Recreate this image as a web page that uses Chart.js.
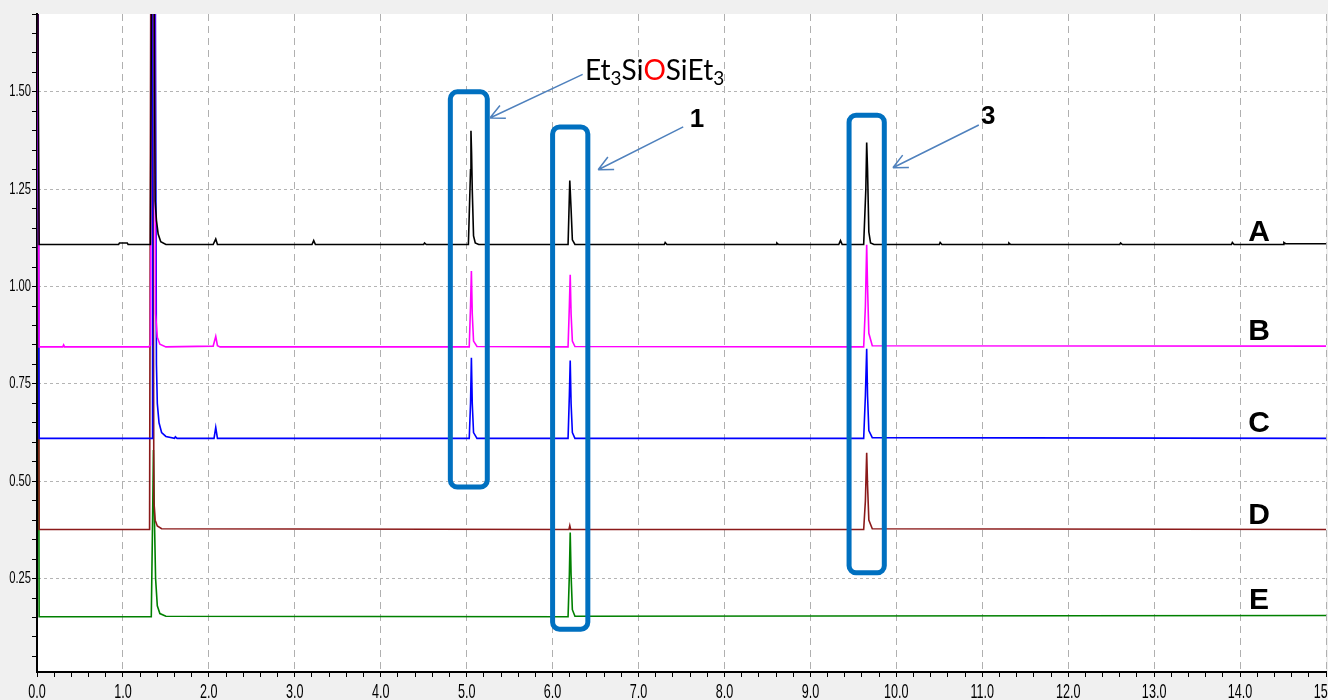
<!DOCTYPE html>
<html>
<head>
<meta charset="utf-8">
<script src="https://cdn.jsdelivr.net/npm/chart.js@4.4.1/dist/chart.umd.min.js"></script>
<style>
  html, body { margin: 0; padding: 0; background: #f0f0f0; }
  #wrap { width: 1328px; height: 700px; }
</style>
</head>
<body>
<div id="wrap"><canvas id="gc" width="1328" height="700"></canvas></div>
<script>
// retention time (min) , signal
const traceA = [
  [0.005, 1.9], [0.025, 1.108], [0.95, 1.108], [0.96, 1.112], [1.05, 1.112], [1.06, 1.108],
  [1.32, 1.108], [1.335, 1.9], [1.36, 1.9], [1.375, 1.22], [1.39, 1.17], [1.41, 1.135], [1.44, 1.115], [1.50, 1.108],
  [2.05, 1.108], [2.08, 1.122], [2.10, 1.108], [3.20, 1.108], [3.22, 1.118], [3.24, 1.108],
  [4.50, 1.108], [4.51, 1.112], [4.53, 1.108],
  [5.02, 1.108], [5.045, 1.30], [5.05, 1.40], [5.057, 1.345], [5.065, 1.25], [5.08, 1.13], [5.10, 1.112], [5.14, 1.108],
  [6.18, 1.108], [6.20, 1.272], [6.215, 1.20], [6.23, 1.12], [6.26, 1.108],
  [7.30, 1.108], [7.31, 1.113], [7.33, 1.108], [8.60, 1.108], [8.61, 1.112], [8.63, 1.108],
  [9.33, 1.108], [9.35, 1.118], [9.37, 1.108],
  [9.62, 1.108], [9.645, 1.25], [9.655, 1.37], [9.665, 1.30], [9.68, 1.14], [9.70, 1.112], [9.74, 1.108],
  [10.50, 1.108], [10.51, 1.113], [10.53, 1.108], [11.30, 1.108], [11.31, 1.112], [11.33, 1.108],
  [12.60, 1.108], [12.61, 1.112], [12.63, 1.108], [13.90, 1.108], [13.91, 1.113], [13.93, 1.108],
  [14.50, 1.108], [14.51, 1.113], [14.53, 1.110], [15.0, 1.110]
];
const traceB = [
  [0.005, 1.9], [0.025, 0.845], [0.30, 0.845], [0.31, 0.850], [0.32, 0.845],
  [1.30, 0.845], [1.32, 0.850], [1.335, 1.9], [1.365, 1.9], [1.38, 0.93], [1.40, 0.87], [1.43, 0.852], [1.50, 0.845],
  [2.05, 0.847], [2.08, 0.872], [2.10, 0.848], [2.13, 0.845],
  [5.03, 0.845], [5.045, 0.95], [5.055, 1.04], [5.065, 0.93], [5.08, 0.86], [5.12, 0.846],
  [6.18, 0.845], [6.195, 0.95], [6.205, 1.03], [6.215, 0.93], [6.23, 0.86], [6.26, 0.846],
  [9.62, 0.845], [9.64, 0.95], [9.655, 1.107], [9.665, 1.0], [9.68, 0.88], [9.72, 0.848],
  [15.0, 0.847]
];
const traceC = [
  [0.005, 1.9], [0.025, 0.61], [1.34, 0.61], [1.345, 1.9], [1.375, 1.9],
  [1.39, 0.80], [1.40, 0.70], [1.42, 0.65], [1.45, 0.625], [1.50, 0.615], [1.60, 0.61], [1.61, 0.614], [1.63, 0.61],
  [2.06, 0.61], [2.08, 0.638], [2.10, 0.61],
  [5.03, 0.61], [5.045, 0.70], [5.055, 0.817], [5.065, 0.70], [5.08, 0.625], [5.12, 0.61],
  [6.18, 0.61], [6.195, 0.72], [6.205, 0.81], [6.215, 0.70], [6.23, 0.625], [6.26, 0.61],
  [9.62, 0.61], [9.64, 0.72], [9.655, 0.84], [9.665, 0.72], [9.68, 0.63], [9.72, 0.612],
  [15.0, 0.61]
];
const traceD = [
  [0.005, 1.9], [0.025, 0.376], [1.31, 0.376], [1.325, 1.9], [1.345, 1.9],
  [1.36, 0.45], [1.375, 0.40], [1.40, 0.385], [1.45, 0.378],
  [6.19, 0.376], [6.20, 0.386], [6.21, 0.376],
  [9.62, 0.376], [9.64, 0.45], [9.655, 0.573], [9.665, 0.49], [9.68, 0.40], [9.72, 0.378],
  [15.0, 0.376]
];
const traceE = [
  [0.005, 1.9], [0.025, 0.152], [1.33, 0.152], [1.345, 0.40], [1.355, 0.58], [1.365, 0.42],
  [1.38, 0.25], [1.40, 0.18], [1.43, 0.16], [1.50, 0.153],
  [6.18, 0.152], [6.195, 0.26], [6.205, 0.368], [6.215, 0.26], [6.23, 0.17], [6.26, 0.153],
  [15.0, 0.155]
];

const traceNames = ['A', 'B', 'C', 'D', 'E'];
const traceColors = ['#000000', '#ff00ff', '#0000ff', '#8b1a1a', '#008000'];
const traces = [traceA, traceB, traceC, traceD, traceE];
// where each trace letter sits (time, signal)
const letterPos = [[14.22, 1.118], [14.22, 0.863], [14.22, 0.627], [14.22, 0.391], [14.22, 0.173]];

// peak boxes and callouts, in axis units
const boxes = [
  { x0: 4.81, x1: 5.24, y0: 1.50, y1: 0.485 },
  { x0: 6.00, x1: 6.41, y0: 1.41, y1: 0.12 },
  { x0: 9.45, x1: 9.86, y0: 1.44, y1: 0.265 }
];
const arrows = [
  { from: [6.35, 1.545], to: [5.27, 1.433] },
  { from: [7.52, 1.41], to: [6.53, 1.30] },
  { from: [10.96, 1.415], to: [9.96, 1.305] }
];

const isMult = (v, s) => Math.abs(v / s - Math.round(v / s)) < 1e-6;

const background = {
  id: 'background',
  beforeDraw(chart) {
    const { ctx, chartArea: a } = chart;
    ctx.save();
    ctx.fillStyle = '#f0f0f0';
    ctx.fillRect(0, 0, chart.width, chart.height);
    ctx.fillStyle = '#ffffff';
    ctx.fillRect(a.left, a.top, a.right - a.left, a.bottom - a.top);
    ctx.restore();
  }
};

// condensed axis numbers, placed from the scales' own ticks
const axisLabels = {
  id: 'axisLabels',
  afterDraw(chart) {
    const { ctx, scales: { x, y } } = chart;
    ctx.save();
    ctx.fillStyle = '#000';
    ctx.font = "21px 'Liberation Sans', Arial, sans-serif";
    ctx.textAlign = 'center';
    ctx.textBaseline = 'top';
    x.ticks.forEach(t => {
      if (!isMult(t.value, 1)) return;
      ctx.save();
      ctx.translate(x.getPixelForValue(t.value), x.top + 10);
      ctx.scale(0.6, 1);
      ctx.fillText(t.value.toFixed(1), 0, 0);
      ctx.restore();
    });
    ctx.font = "16px 'Liberation Sans', Arial, sans-serif";
    ctx.textAlign = 'right';
    ctx.textBaseline = 'middle';
    y.ticks.forEach(t => {
      if (!isMult(t.value, 0.25)) return;
      ctx.save();
      ctx.translate(y.right - 6, y.getPixelForValue(t.value));
      ctx.scale(0.7, 1);
      ctx.fillText(t.value.toFixed(2), 0, 0);
      ctx.restore();
    });
    ctx.restore();
  }
};

const callouts = {
  id: 'callouts',
  afterDraw(chart) {
    const { ctx, scales: { x, y } } = chart;
    ctx.save();
    // boxes
    ctx.strokeStyle = '#0070c0';
    ctx.lineWidth = 5;
    boxes.forEach(b => {
      const l = x.getPixelForValue(b.x0), r = x.getPixelForValue(b.x1);
      const t = y.getPixelForValue(b.y0), bt = y.getPixelForValue(b.y1);
      ctx.beginPath();
      ctx.roundRect(l, t, r - l, bt - t, 7);
      ctx.stroke();
    });
    // arrows
    ctx.strokeStyle = '#4f81bd';
    ctx.lineWidth = 1.5;
    arrows.forEach(a => {
      const x1 = x.getPixelForValue(a.from[0]), y1 = y.getPixelForValue(a.from[1]);
      const x2 = x.getPixelForValue(a.to[0]), y2 = y.getPixelForValue(a.to[1]);
      const ang = Math.atan2(y2 - y1, x2 - x1);
      ctx.beginPath();
      ctx.moveTo(x1, y1);
      ctx.lineTo(x2, y2);
      for (const d of [0.45, -0.45]) {
        ctx.moveTo(x2, y2);
        ctx.lineTo(x2 - 16 * Math.cos(ang + d), y2 - 16 * Math.sin(ang + d));
      }
      ctx.stroke();
    });

    // compound label with subscripts and red O
    const parts = [
      ['Et', false, '#000'], ['3', true, '#000'], ['Si', false, '#000'], ['O', false, '#ff0000'],
      ['Si', false, '#000'], ['Et', false, '#000'], ['3', true, '#000']
    ];
    let px = x.getPixelForValue(6.377);
    const py = y.getPixelForValue(1.531);
    ctx.textBaseline = 'alphabetic';
    ctx.textAlign = 'left';
    parts.forEach(([s, sub, col]) => {
      ctx.font = sub ? "19px 'Lato','Open Sans',sans-serif" : "28px 'Lato','Open Sans',sans-serif";
      ctx.fillStyle = col;
      ctx.fillText(s, px, sub ? py + 5 : py);
      px += ctx.measureText(s).width;
    });

    ctx.font = "bold 26px 'Liberation Sans',Arial,sans-serif";
    ctx.fillStyle = '#000';
    ctx.textAlign = 'center';
    ctx.fillText('1', x.getPixelForValue(7.68), y.getPixelForValue(1.41));
    ctx.fillText('3', x.getPixelForValue(11.07), y.getPixelForValue(1.418));

    ctx.font = "bold 30px 'Liberation Sans',Arial,sans-serif";
    traceNames.forEach((n, i) => {
      ctx.fillText(n, x.getPixelForValue(letterPos[i][0]), y.getPixelForValue(letterPos[i][1]));
    });
    ctx.restore();
  }
};

new Chart(document.getElementById('gc'), {
  type: 'line',
  data: {
    datasets: traces.map((tr, i) => ({
      label: traceNames[i],
      data: tr.map(([t, v]) => ({ x: t, y: v })),
      borderColor: traceColors[i],
      borderWidth: 1.6,
      pointRadius: 0,
      tension: 0,
      fill: false
    }))
  },
  options: {
    responsive: false,
    animation: false,
    layout: { padding: { top: 14, right: 2, left: 0, bottom: 0 } },
    plugins: { legend: { display: false }, tooltip: { enabled: false } },
    scales: {
      x: {
        type: 'linear', min: 0, max: 15,
        afterFit: s => { s.height = 28; s.paddingLeft = 0; s.paddingRight = 0; },
        ticks: {
          stepSize: 0.2, autoSkip: false, maxRotation: 0, includeBounds: false,
          color: 'rgba(0,0,0,0)',
          callback: v => isMult(v, 1) ? v.toFixed(1) : ''
        },
        grid: {
          color: c => (c.tick && isMult(c.tick.value, 1)) ? '#b0b0b0' : 'rgba(0,0,0,0)',
          tickColor: '#000', tickLength: 5, lineWidth: 1
        },
        border: { color: '#000', width: 2, dash: [7, 5] }
      },
      y: {
        min: 0.01, max: 1.70,
        afterFit: s => { s.width = 37; },
        ticks: {
          stepSize: 0.05, autoSkip: false, includeBounds: false,
          color: 'rgba(0,0,0,0)',
          callback: v => isMult(v, 0.25) ? v.toFixed(2) : ''
        },
        grid: {
          color: c => (c.tick && isMult(c.tick.value, 0.25)) ? '#b4b4b4' : 'rgba(0,0,0,0)',
          tickColor: '#000', tickLength: 5, lineWidth: 1
        },
        border: { color: '#000', width: 2, dash: [3, 3] }
      }
    }
  },
  plugins: [background, axisLabels, callouts]
});
</script>
</body>
</html>
